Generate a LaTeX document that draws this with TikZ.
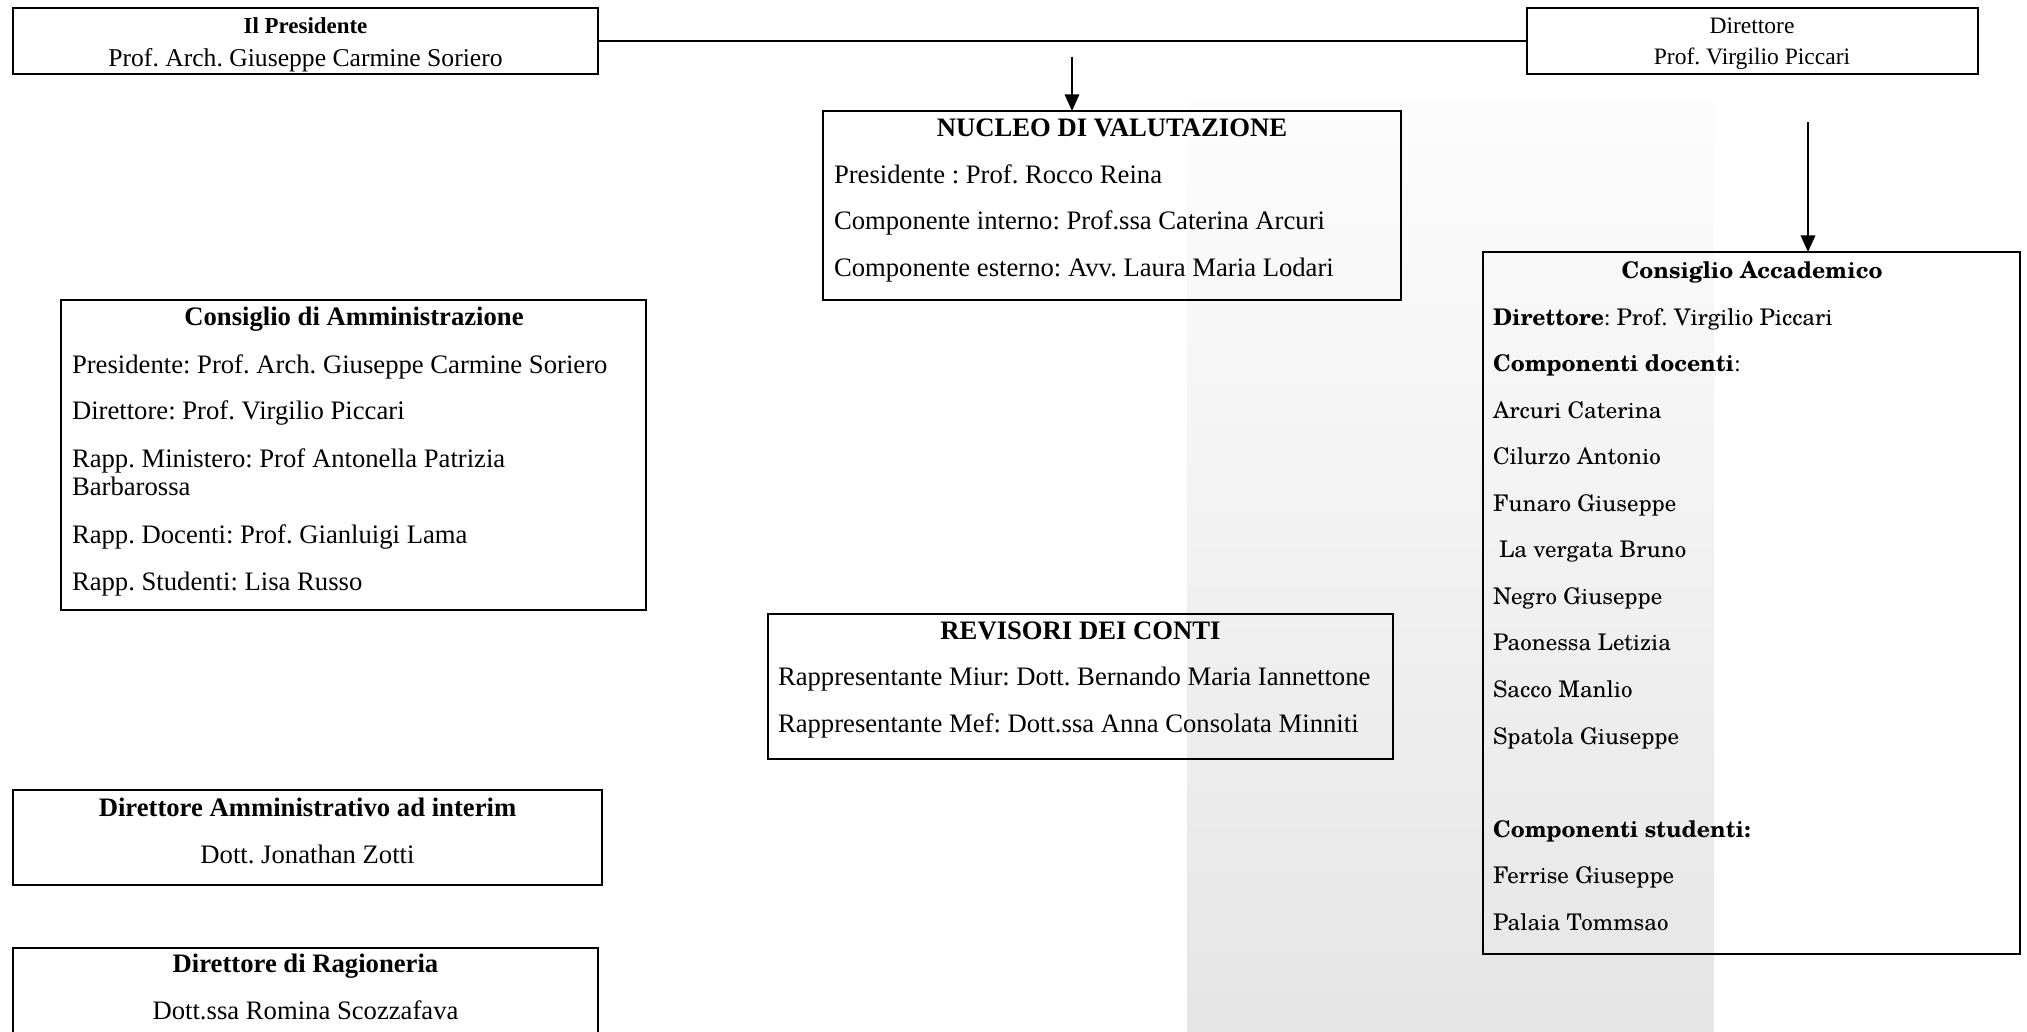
\documentclass[tikz,border=0pt]{standalone}
\usepackage{fontspec}
\setmainfont{Liberation Serif}
\newfontfamily\schola{texgyreschola}[Extension=.otf,UprightFont=*-regular,BoldFont=*-bold]
\usetikzlibrary{arrows.meta,fit}
\frenchspacing

\begin{document}
\begin{tikzpicture}[x=0.48pt,y=-0.48pt,
  every node/.style={inner sep=0pt, outer sep=0pt, font=\fontsize{12.8}{15}\selectfont},
  box/.style={draw, line width=1pt},
  txt/.style={anchor=mid west},
  ttl/.style={anchor=mid, font=\fontsize{12.8}{15}\selectfont\bfseries},
  cen/.style={anchor=mid},
  top/.style={anchor=mid, font=\fontsize{11.3}{13}\selectfont},
  catxt/.style={anchor=mid west, font=\fontsize{11}{13}\schola},
  cattl/.style={anchor=mid, font=\fontsize{11}{13}\schola\bfseries},
  link/.style={line width=1pt},
  arr/.style={line width=0.8pt, -{Triangle[length=8pt,width=7pt]}}]
\useasboundingbox (0,0) rectangle (2027,1032);
\clip (0,0) rectangle (2027,1032);
\shade[top color=black!1, bottom color=black!10] (1187,103) rectangle (1714,1032);

\node[box, fit={(13,8) (598,74)}] (pres) {};
\node[top] (presT) at (305.5,29) {\fontsize{11}{13}\selectfont\bfseries Il Presidente};
\node[top] (presN) at (305.5,62) {\fontsize{12.3}{14}\selectfont Prof. Arch. Giuseppe Carmine Soriero};

\node[box, fit={(1527,8) (1978,74)}] (dir) {};
\node[top] (dirT) at (1752,29) {Direttore};
\node[top] (dirN) at (1752,60) {Prof. Virgilio Piccari};

\node[box, fit={(823,111) (1401,300)}] (nuc) {};
\node[ttl] (nucT) at (1112,132) {NUCLEO DI VALUTAZIONE};
\node[txt] (nuc1) at (834,179) {Presidente : Prof. Rocco Reina};
\node[txt] (nuc2) at (834,225) {Componente interno: Prof.ssa Caterina Arcuri};
\node[txt] (nuc3) at (834,272) {Componente esterno: Avv. Laura Maria Lodari};

\node[box, fit={(1483,252) (2020,954)}] (ca) {};
\node[cattl] (caT) at (1752,274) {Consiglio Accademico};
\node[catxt] (ca1) at (1493,321) {\textbf{Direttore}: Prof. Virgilio Piccari};
\node[catxt] (ca2) at (1493,367) {\textbf{Componenti docenti}:};
\node[catxt] (ca3) at (1493,414) {Arcuri Caterina};
\node[catxt] (ca4) at (1493,460) {Cilurzo Antonio};
\node[catxt] (ca5) at (1493,507) {Funaro Giuseppe};
\node[catxt] (ca6) at (1499,553) {La vergata Bruno};
\node[catxt] (ca7) at (1493,600) {Negro Giuseppe};
\node[catxt] (ca8) at (1493,646) {Paonessa Letizia};
\node[catxt] (ca9) at (1493,693) {Sacco Manlio};
\node[catxt] (ca10) at (1493,740) {Spatola Giuseppe};
\node[catxt] (ca11) at (1493,833) {\textbf{Componenti studenti:}};
\node[catxt] (ca12) at (1493,879) {Ferrise Giuseppe};
\node[catxt] (ca13) at (1493,926) {Palaia Tommsao};

\node[box, fit={(61,300) (646,610)}] (cda) {};
\node[ttl] (cdaT) at (354,321) {Consiglio di Amministrazione};
\node[txt] (cda1) at (72,369) {Presidente: Prof. Arch. Giuseppe Carmine Soriero};
\node[txt] (cda2) at (72,415) {Direttore: Prof. Virgilio Piccari};
\node[txt] (cda3) at (72,463) {Rapp. Ministero: Prof Antonella Patrizia};
\node[txt] (cda4) at (72,491) {Barbarossa};
\node[txt] (cda5) at (72,539) {Rapp. Docenti: Prof. Gianluigi Lama};
\node[txt] (cda6) at (72,586) {Rapp. Studenti: Lisa Russo};

\node[box, fit={(768,614) (1393,759)}] (rev) {};
\node[ttl] (revT) at (1080.5,635) {REVISORI DEI CONTI};
\node[txt] (rev1) at (778,681) {Rappresentante Miur: Dott. Bernando Maria Iannettone};
\node[txt] (rev2) at (778,728) {Rappresentante Mef: Dott.ssa Anna Consolata Minniti};

\node[box, fit={(13,790) (602,885)}] (dam) {};
\node[ttl] (damT) at (307.5,812) {Direttore Amministrativo ad interim};
\node[cen] (damN) at (307.5,859) {Dott. Jonathan Zotti};

\node[box, fit={(13,948) (598,1060)}] (rag) {};
\node[ttl] (ragT) at (305.5,968) {Direttore di Ragioneria};
\node[cen] (ragN) at (305.5,1015) {Dott.ssa Romina Scozzafava};

\coordinate (a1) at (1072,57);
\coordinate (a2) at (1808,122);
\draw[link] (pres.east) -- (dir.west);
\draw[arr] (a1) -- (a1 |- nuc.north);
\draw[arr] (a2) -- (a2 |- ca.north);
\end{tikzpicture}
\end{document}
